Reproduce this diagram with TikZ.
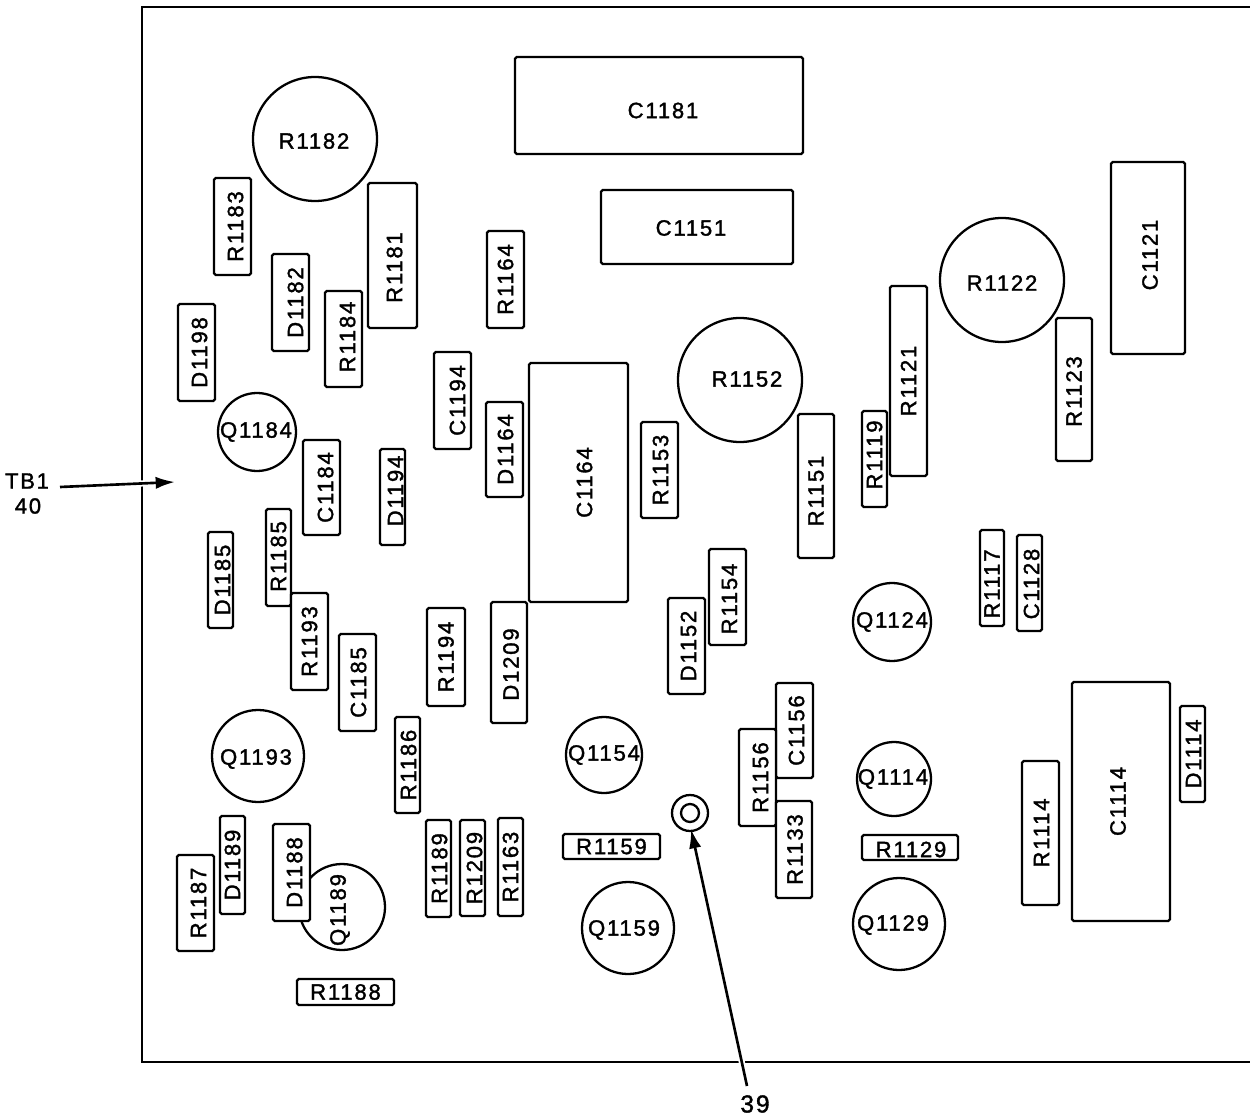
\documentclass[tikz,border=0pt]{standalone}
\usepackage{fontspec}
\setmainfont{Liberation Sans}[LetterSpace=8,FakeBold=1.5]
\usetikzlibrary{arrows.meta,calc}
\tikzset{
  ink/.style={draw=black,line width=1.3pt},
  part/.style={ink,fill=white,rectangle,rounded corners=1pt,inner sep=0pt},
  disc/.style={ink,fill=white,circle,inner sep=0pt},
  tag/.style={inner sep=0pt,font=\fontsize{12.6}{13}\selectfont},
  lbl/.style={inner sep=0pt,font=\fontsize{12.5}{13}\selectfont},
  lblbig/.style={inner sep=0pt,font=\fontsize{14}{14}\selectfont},
  pointer/.style={draw=black,line width=1.5pt,-{Latex[length=11pt,width=7pt]}},
  halo/.style={draw=white,line width=3.5pt}
}
% \pbox{name}{x1}{y1}{x2}{y2}{label}{rotation}{offset}
\newcommand\pbox[8]{%
  \pgfmathsetmacro\pw{(#4-#2)*0.02}%
  \pgfmathsetmacro\ph{(#5-#3)*0.02}%
  \pgfmathsetmacro\pcx{(#2+#4)/2}%
  \pgfmathsetmacro\pcy{(#3+#5)/2}%
  \node[part,minimum width=\pw cm,minimum height=\ph cm] (#1) at (\pcx,\pcy) {};
  \node[tag,rotate=#7] (#1t) at ($(#1.center)+(#8)$) {#6};
}
\newcommand\hb[6][0,0]{\pbox{#6}{#2}{#3}{#4}{#5}{#6}{0}{#1}}
\newcommand\vb[6][0,0]{\pbox{#6}{#2}{#3}{#4}{#5}{#6}{90}{#1}}
% \pdisc[offset]{cx}{cy}{r}{label}
\newcommand\pdisc[5][0,0]{%
  \pgfmathsetmacro\pd{2*#4*0.02}%
  \node[disc,minimum size=\pd cm] (#5) at (#2,#3) {};
  \node[tag] (#5t) at ($(#5.center)+(#1)$) {#5};
}
\begin{document}
\begin{tikzpicture}[x=0.02cm,y=-0.02cm]
\useasboundingbox (0,0) rectangle (1250,1118);
\coordinate (bTR) at (1250,7);
\coordinate (bTL) at (142,7);
\coordinate (bBL) at (142,1062);
\coordinate (bBR) at (1250,1062);
\draw[draw=black,line width=1.5pt] (bTR) -- (bTL) -- (bBL) -- (bBR);

\hb[4,5]{515}{57}{803}{154}{C1181}
\hb[-6,1]{601}{190}{793}{264}{C1151}
\vb[2,-3]{1111}{162}{1185}{354}{C1121}
\pdisc[-1,2]{315}{139}{62}{R1182}
\pdisc[0,3]{1002}{280}{62}{R1122}
\pdisc[7,-1]{740}{380}{62}{R1152}
\pdisc[-1,0]{257}{432}{39}{Q1184}
\pdisc{892}{622}{39}{Q1124}
\pdisc[-2,3]{258}{756}{46}{Q1193}
\pdisc{604}{755}{38}{Q1154}
\pdisc[-1,0]{894}{779}{37}{Q1114}
\pdisc[-4,2]{628}{928}{46}{Q1159}
\pdisc[-6,1]{899}{924}{46}{Q1129}
\pgfmathsetmacro\pd{2*43*0.02}
\node[disc,minimum size=\pd cm] (Q1189) at (342,907) {};
\node[rotate=90,tag] (Q1189t) at (340,910) {Q1189};

\vb[3,0]{214}{178}{251}{275}{R1183}
\vb[2,12]{368}{183}{417}{328}{R1181}
\vb{487}{231}{524}{328}{R1164}
\vb[5,0]{272}{254}{309}{351}{D1182}
\vb[4,-2]{325}{291}{362}{387}{R1184}
\vb[3,0]{178}{304}{215}{401}{D1198}
\vb[5,0]{434}{352}{471}{449}{C1194}
\vb[6,0]{529}{363}{628}{602}{C1164}
\vb[1,0]{486}{402}{523}{497}{D1164}
\vb[1,0]{641}{422}{678}{518}{R1153}
\vb{890}{286}{927}{476}{R1121}
\vb[0,2]{1056}{318}{1092}{461}{R1123}
\vb[0,-4]{862}{411}{887}{507}{R1119}
\vb[0,5]{798}{414}{834}{558}{R1151}
\vb[4,0]{303}{440}{340}{535}{C1184}
\vb[3,-6]{380}{449}{405}{545}{D1194}
\vb[0,-1]{266}{509}{291}{606}{R1185}
\vb[2,0]{208}{532}{233}{628}{D1185}
\vb[0,6]{980}{530}{1004}{626}{R1117}
\vb[2,1]{1017}{535}{1042}{631}{C1128}
\vb[2,2]{709}{549}{746}{645}{R1154}
\vb{291}{593}{328}{690}{R1193}
\vb[2,0]{668}{598}{705}{694}{D1152}
\vb[2,2]{491}{602}{527}{723}{D1209}
\vb{427}{608}{465}{706}{R1194}
\vb[1,0]{339}{634}{376}{731}{C1185}
\vb[2,0]{776}{683}{813}{778}{C1156}
\vb[-3,0]{1072}{682}{1170}{921}{C1114}
\vb[1,0]{1180}{706}{1205}{802}{D1114}
\vb[3,0]{739}{729}{776}{826}{R1156}
\vb[1,0]{395}{717}{420}{813}{R1186}
\vb[1,0]{1022}{761}{1059}{905}{R1114}
\vb[1,0]{776}{801}{812}{898}{R1133}
\vb{220}{816}{245}{914}{D1189}
\vb[3,0]{273}{824}{310}{921}{D1188}
\vb[3,0]{177}{855}{214}{951}{R1187}
\vb[1,0]{426}{820}{451}{917}{R1189}
\vb[2,0]{460}{820}{485}{916}{R1209}
\vb{498}{818}{523}{916}{R1163}
\hb{563}{834}{660}{859}{R1159}
\hb[1,2]{862}{835}{958}{860}{R1129}
\hb{297}{979}{394}{1005}{R1188}

% terminal 39
\node[ink,circle,minimum size=0.72cm,inner sep=0pt] (hole) at (690,813) {};
\node[ink,circle,minimum size=0.36cm,inner sep=0pt] (holei) at (690,813) {};

% labels
\node[lbl] (tb) at (27,481) {TB1};
\node[lbl] (forty) at (28,506) {40};
\node[lblbig] (thirtynine) at (755,1104) {39};

% pointers
\coordinate (tbS) at (60,487);
\coordinate (tbE) at (175,482);
\coordinate (nS) at (747,1086);
\coordinate (nE) at (691,829);
\draw[halo] ($(tbS)!0.62!(tbE)$) -- ($(tbS)!0.78!(tbE)$);
\draw[halo] ($(nS)!0.06!(nE)$) -- ($(nS)!0.13!(nE)$);
\draw[pointer] (tbS) -- (tbE);
\draw[pointer] (nS) -- (nE);
\end{tikzpicture}
\end{document}
